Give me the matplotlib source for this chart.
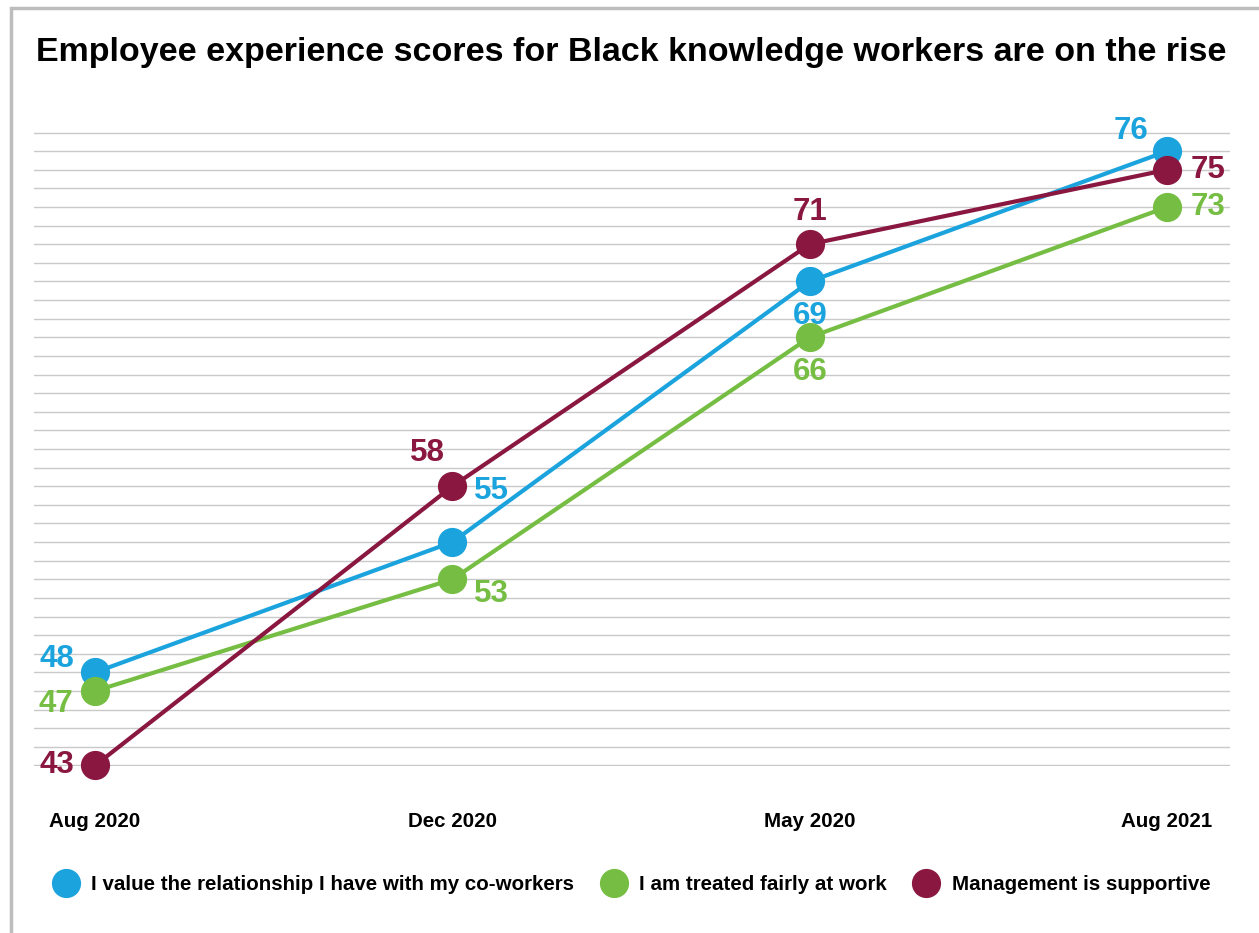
import matplotlib.pyplot as plt
from matplotlib.lines import Line2D
from matplotlib.patches import Rectangle

plt.rcParams['font.family'] = ['Liberation Sans', 'DejaVu Sans']

# ---- data ----
periods = ["Aug 2020", "Dec 2020", "May 2020", "Aug 2021"]
series_names = [
    "I value the relationship I have with my co-workers",
    "I am treated fairly at work",
    "Management is supportive",
]
coworkers = [48, 55, 69, 76]
fairly = [47, 53, 66, 73]
management = [43, 58, 71, 75]

colors = ["#1BA3DD", "#76BE43", "#8A1740"]

# label offsets in pixels (dx, dy) for each point
label_offsets = [
    [(-38, 13), (39, 51), (0, -35), (-36, 20)],
    [(-39, -13), (39, -15), (0, -35), (41, 0)],
    [(-38, 0), (-25, 33), (0, 32), (41, 0)],
]

PX = 72 / 100  # pixels -> points

fig = plt.figure(figsize=(12.59, 9.33), dpi=100)
ax = fig.add_axes([34 / 1259, 1 - 766 / 933, 1196 / 1259, (766 - 132) / 933])

x = list(range(len(periods)))
for vals, color, offs in zip([coworkers, fairly, management], colors, label_offsets):
    ax.plot(x, vals, color=color, lw=3, marker="o", ms=20, clip_on=False, zorder=3)
    for xi, v, (dx, dy) in zip(x, vals, offs):
        ax.annotate(str(v), (xi, v), xytext=(dx * PX, dy * PX), textcoords="offset points",
                    ha="center", va="center", fontsize=22.5, fontweight="bold", color=color)

ax.set_ylim(42.97, 77.03)
ax.set_xlim(-0.171, 3.176)
ax.set_yticks(range(43, 78))
ax.yaxis.grid(True, color="#C9C9C9", lw=1.0)
ax.set_axisbelow(True)
ax.tick_params(axis="y", length=0, labelleft=False)
ax.set_xticks(x)
ax.set_xticklabels(periods, fontsize=14.8, fontweight="bold")
ax.tick_params(axis="x", length=0, pad=33)
for s in ax.spines.values():
    s.set_visible(False)

fig.text(36 / 1259, 1 - 52 / 933, "Employee experience scores for Black knowledge workers are on the rise",
         fontsize=24.45, fontweight="bold", ha="left", va="center")

handles = [Line2D([], [], ls="none", marker="o", ms=20, color=c) for c in colors]
fig.legend(handles, series_names, loc="center", bbox_to_anchor=(632 / 1259, 1 - 885 / 933), ncol=3,
           frameon=False, prop={"size": 14.8, "weight": "bold"}, handletextpad=0.66,
           columnspacing=1.3, handlelength=1.2)

fig.patches.append(Rectangle((11 / 1259, -0.1), 1.2, 1.1 - 8 / 933, transform=fig.transFigure,
                             fill=False, ec="#BDBDBD", lw=2.5))

fig.savefig("out.png", dpi=100)
